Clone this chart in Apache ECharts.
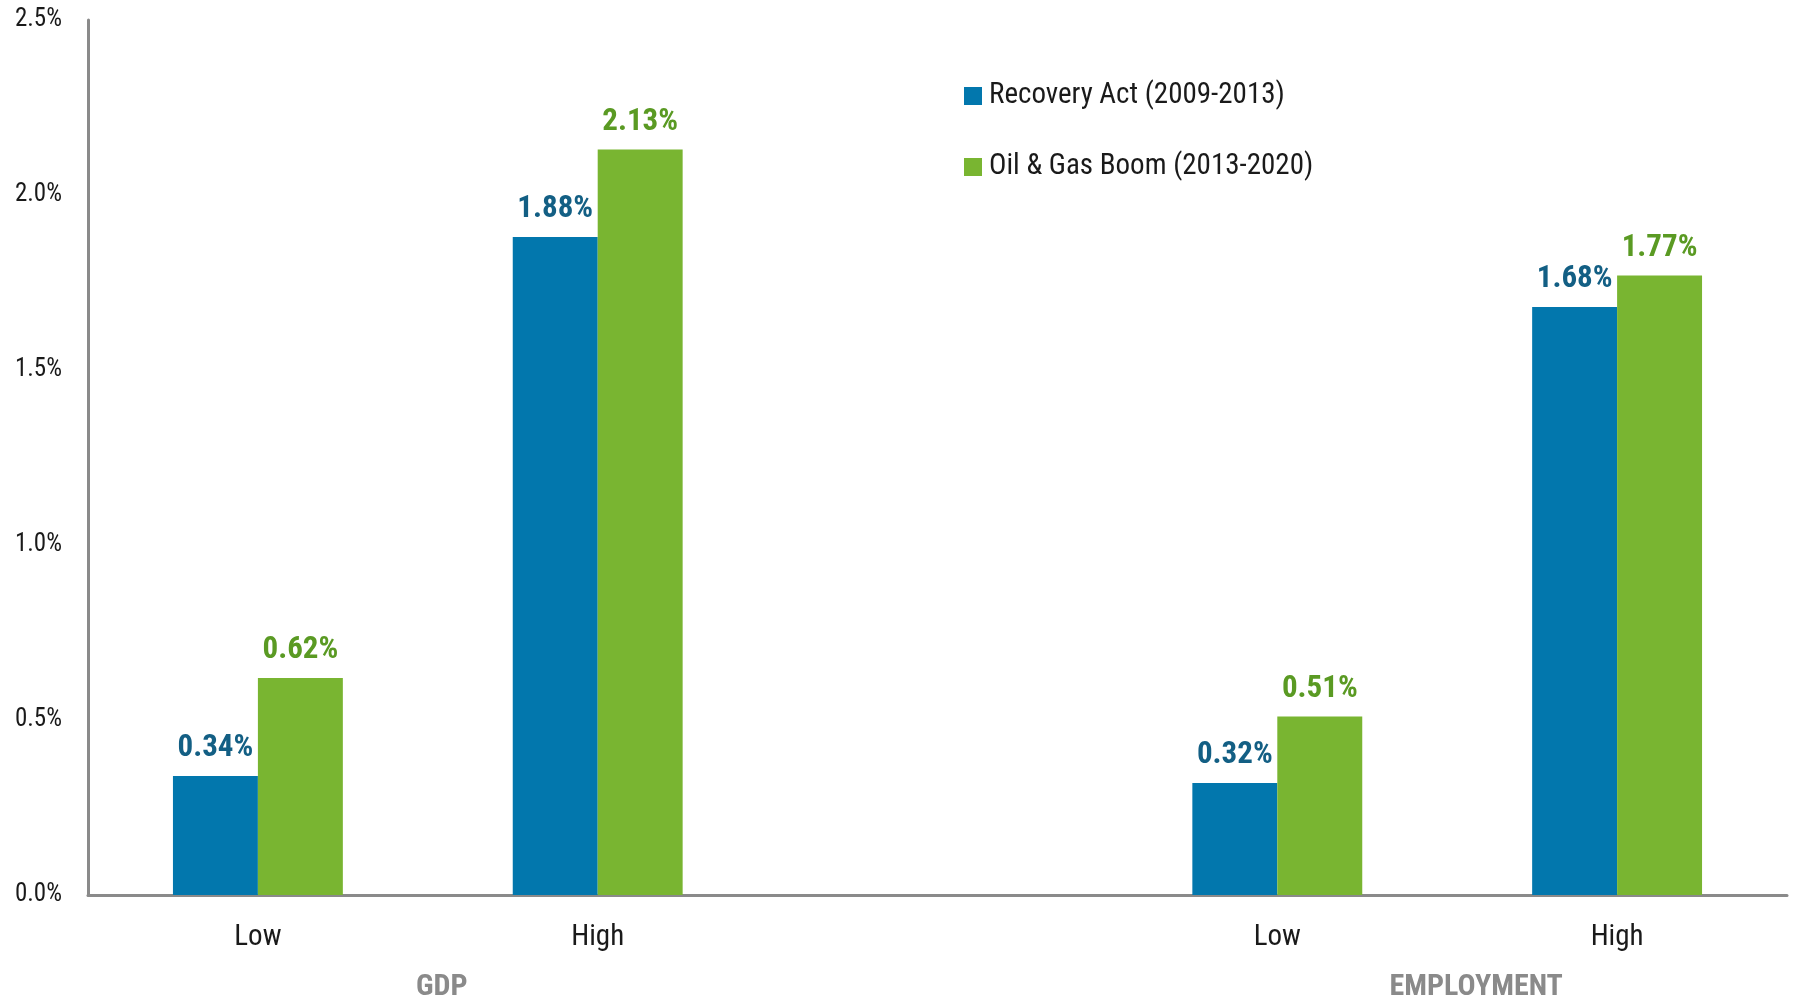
<!DOCTYPE html>
<html>
<head>
<meta charset="utf-8">
<script src="https://cdn.jsdelivr.net/npm/echarts@6/dist/echarts.min.js"></script>
<style>
html,body{margin:0;padding:0;background:#fff;}
#chart{width:1794px;height:1001px;}
</style>
</head>
<body>
<div id="chart"></div>
<script>
const categories = ['Low', 'High', '', 'Low', 'High'];
const groupLabels = ['GDP', 'EMPLOYMENT'];
const groupSpans = [[0, 1], [3, 4]];
const recoveryAct = [0.34, 1.88, '-', 0.32, 1.68];
const oilGasBoom = [0.62, 2.13, '-', 0.51, 1.77];
const seriesNames = ['Recovery Act (2009-2013)', 'Oil & Gas Boom (2013-2020)'];
const yTicks = [0, 0.5, 1.0, 1.5, 2.0, 2.5];

const FONT = '"Liberation Sans Narrow", "Roboto Condensed", "DejaVu Sans Condensed", "Liberation Sans", sans-serif';
const BLUE = '#0277ad', GREEN = '#79b531';

const chart = echarts.init(document.getElementById('chart'));
const option = {
  animation: false,
  textStyle: { fontFamily: FONT },
  grid: { left: 88, right: 7, top: 20, bottom: 106, containLabel: false },
  legend: {
    orient: 'vertical', left: 964, top: 81, padding: 0, itemWidth: 18, itemHeight: 18, itemGap: 41,
    icon: 'rect',
    textStyle: { fontFamily: FONT, fontSize: 29, lineHeight: 30, color: '#1a1a1a', padding: [0, 0, 0, 2] },
    data: seriesNames
  },
  xAxis: {
    type: 'category', data: categories,
    axisLine: { lineStyle: { color: '#8a8a8a', width: 3 } },
    axisTick: { show: false },
    axisLabel: { fontFamily: FONT, fontSize: 29, color: '#1a1a1a', margin: 28 }
  },
  yAxis: {
    type: 'value', min: yTicks[0], max: yTicks[yTicks.length - 1], interval: 0.5,
    axisLine: { show: true, lineStyle: { color: '#8a8a8a', width: 3 } },
    axisTick: { show: false },
    splitLine: { show: false },
    axisLabel: { fontFamily: FONT, fontSize: 25, color: '#1a1a1a', margin: 26,
      formatter: v => v.toFixed(1) + '%' }
  },
  series: [
    { name: seriesNames[0], type: 'bar', data: recoveryAct, barWidth: '25%', barGap: '0%',
      itemStyle: { color: BLUE },
      label: { show: true, position: 'top', distance: 12, fontFamily: FONT, fontSize: 31, fontWeight: 'bold',
        color: '#135f84', formatter: p => p.value.toFixed(2) + '%' } },
    { name: seriesNames[1], type: 'bar', data: oilGasBoom, barWidth: '25%', barGap: '0%',
      itemStyle: { color: GREEN },
      label: { show: true, position: 'top', distance: 12, fontFamily: FONT, fontSize: 31, fontWeight: 'bold',
        color: '#5a9a23', formatter: p => p.value.toFixed(2) + '%' } }
  ]
};
chart.setOption(option);

const offsets = [14, 29];
const graphics = groupLabels.map((g, i) => {
  const a = chart.convertToPixel({ xAxisIndex: 0 }, groupSpans[i][0]);
  const b = chart.convertToPixel({ xAxisIndex: 0 }, groupSpans[i][1]);
  return {
    type: 'text', x: (a + b) / 2 + offsets[i], y: 987,
    style: { text: g, fontFamily: FONT, fontSize: 30, fontWeight: 'bold', fill: '#8a8a8a',
      align: 'center', verticalAlign: 'middle' }
  };
});
chart.setOption({ graphic: graphics });
</script>
</body>
</html>
